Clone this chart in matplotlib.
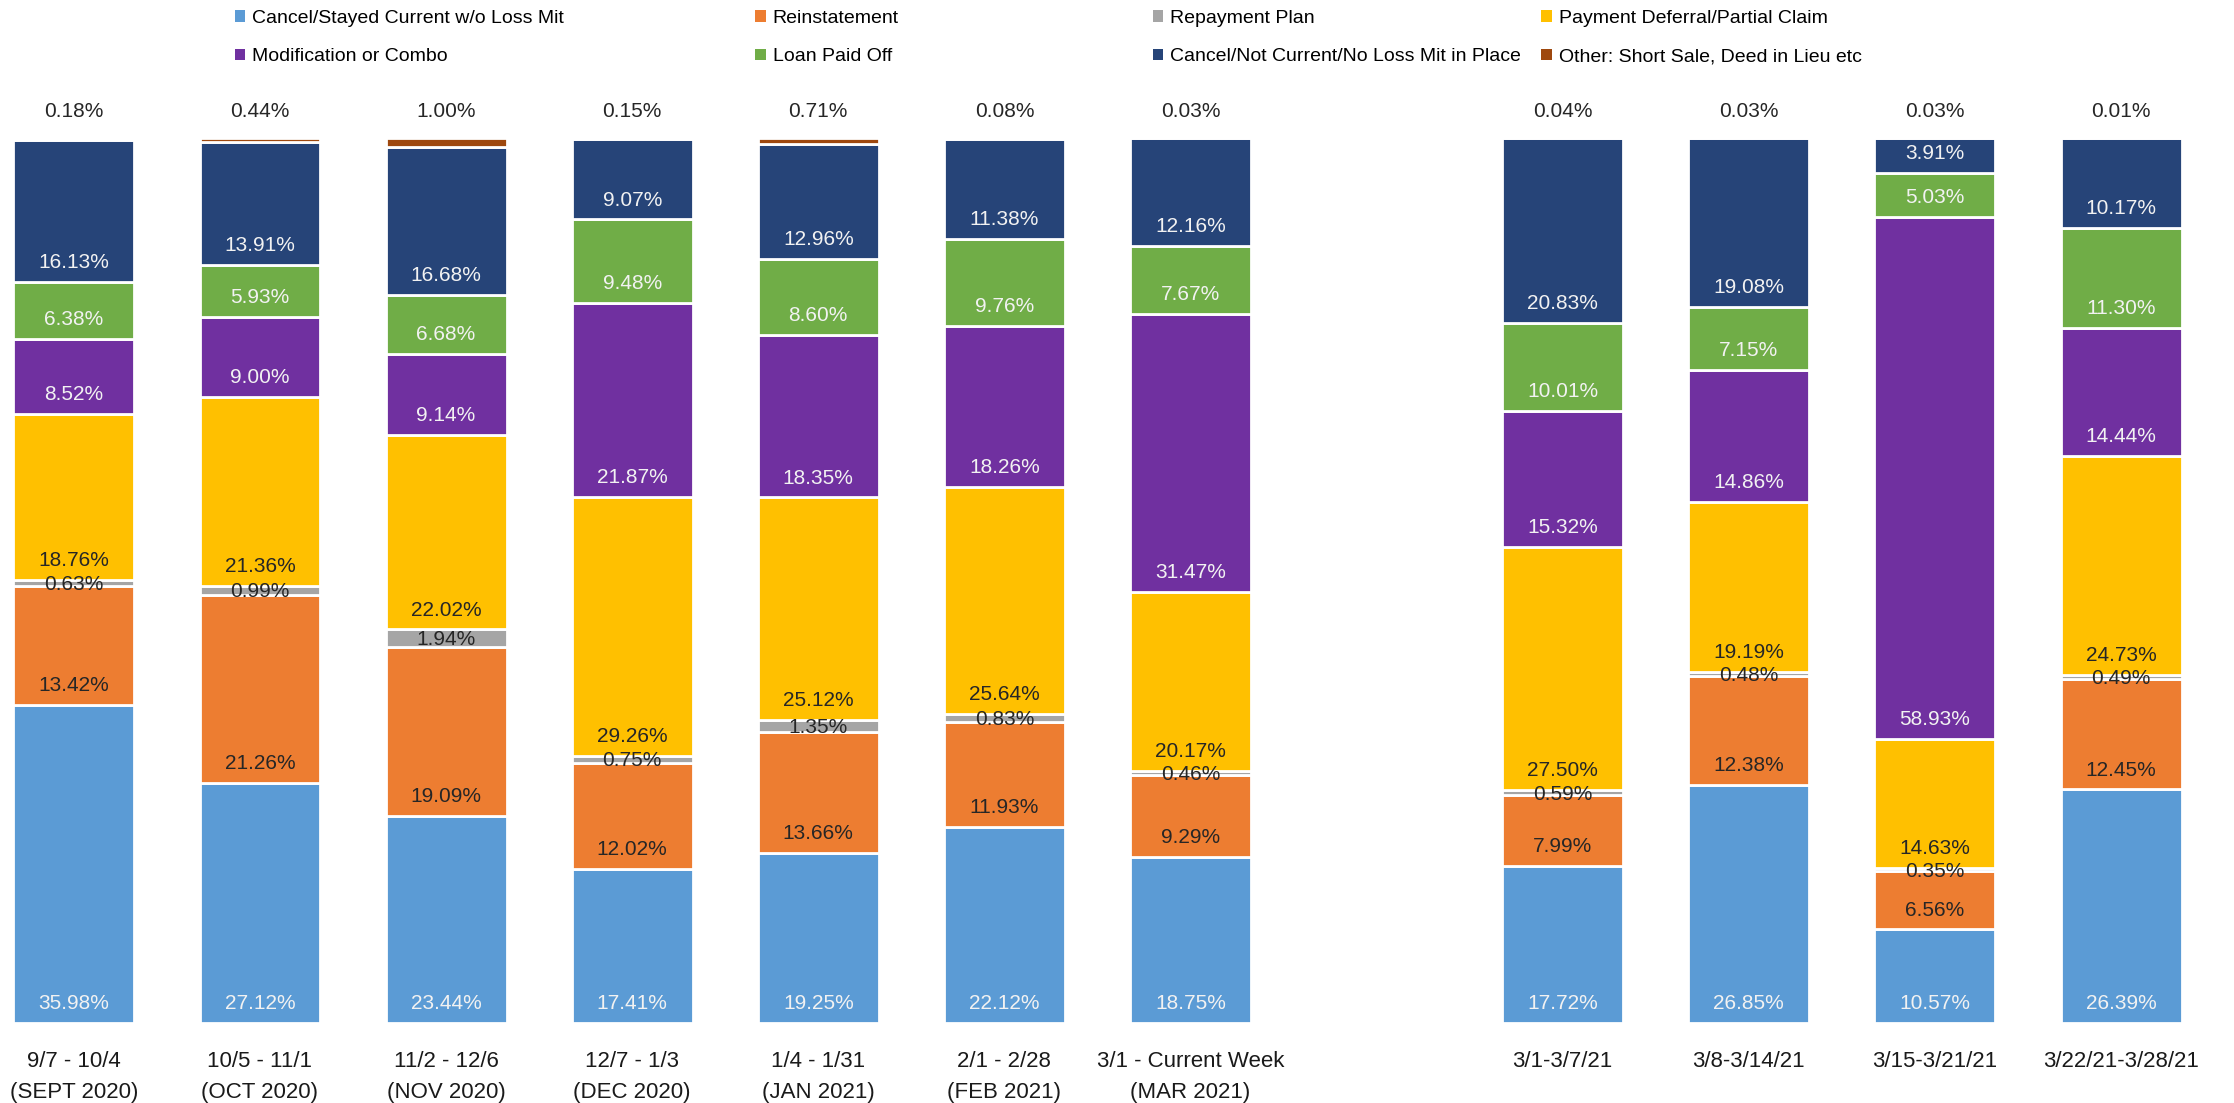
import numpy as np
import matplotlib.pyplot as plt
from matplotlib.patches import Patch

plt.rcParams['font.family'] = ['Liberation Sans', 'DejaVu Sans']

#categories (bottom to top of each stack)
series = ['Cancel/Stayed Current w/o Loss Mit', 'Reinstatement', 'Repayment Plan',
          'Payment Deferral/Partial Claim', 'Modification or Combo', 'Loan Paid Off',
          'Cancel/Not Current/No Loss Mit in Place', 'Other: Short Sale, Deed in Lieu etc']
colors = ['#5B9BD5', '#ED7D31', '#A5A5A5', '#FFC000', '#7030A0', '#70AD47', '#264478', '#9E480E']
txt_colors = ['#F2F2F2', '#262626', '#262626', '#262626', '#F2F2F2', '#F2F2F2', '#F2F2F2', '#262626']

labels = ['9/7 - 10/4\n(SEPT 2020)', '10/5 - 11/1\n(OCT 2020)', '11/2 - 12/6\n(NOV 2020)',
          '12/7 - 1/3\n(DEC 2020)', '1/4 - 1/31\n(JAN 2021)', '2/1 - 2/28\n(FEB 2021)',
          '3/1 - Current Week\n(MAR 2021)', '3/1-3/7/21', '3/8-3/14/21', '3/15-3/21/21',
          '3/22/21-3/28/21']
pos = [0, 1, 2, 3, 4, 5, 6, 8, 9, 10, 11]

stayed_current = [35.98, 27.12, 23.44, 17.41, 19.25, 22.12, 18.75, 17.72, 26.85, 10.57, 26.39]
reinstatement  = [13.42, 21.26, 19.09, 12.02, 13.66, 11.93, 9.29, 7.99, 12.38, 6.56, 12.45]
repayment      = [0.63, 0.99, 1.94, 0.75, 1.35, 0.83, 0.46, 0.59, 0.48, 0.35, 0.49]
deferral       = [18.76, 21.36, 22.02, 29.26, 25.12, 25.64, 20.17, 27.50, 19.19, 14.63, 24.73]
modification   = [8.52, 9.00, 9.14, 21.87, 18.35, 18.26, 31.47, 15.32, 14.86, 58.93, 14.44]
paid_off       = [6.38, 5.93, 6.68, 9.48, 8.60, 9.76, 7.67, 10.01, 7.15, 5.03, 11.30]
not_current    = [16.13, 13.91, 16.68, 9.07, 12.96, 11.38, 12.16, 20.83, 19.08, 3.91, 10.17]
other          = [0.18, 0.44, 1.00, 0.15, 0.71, 0.08, 0.03, 0.04, 0.03, 0.03, 0.01]

data = [stayed_current, reinstatement, repayment, deferral, modification, paid_off, not_current, other]

fig = plt.figure(figsize=(22.34, 11.03), dpi=100)
ax = fig.add_axes([0, 0.0725, 1, 0.8024])

fs = 15
bottom = np.zeros(len(pos))
for i, vals in enumerate(data):
    vals = np.array(vals)
    ax.bar(pos, vals, 0.65, bottom=bottom, color=colors[i], edgecolor='white',
           linewidth=2, label=series[i])
    for x, b, v in zip(pos, bottom, vals):
        if i == 7:
            # other: label above the bar
            ax.annotate('%.2f%%' % v, (x, 100), xytext=(0, 19), textcoords='offset points',
                        ha='center', va='center', fontsize=fs, color='#262626')
        elif i == 2:
            ax.annotate('%.2f%%' % v, (x, b + v / 2), xytext=(0, -1), textcoords='offset points',
                        ha='center', va='center', fontsize=fs, color=txt_colors[i])
        else:
            ax.annotate('%.2f%%' % v, (x, b), xytext=(0, 14), textcoords='offset points',
                        ha='center', va='center', fontsize=fs, color=txt_colors[i])
    bottom += vals

ax.set_xlim(-0.397, 11.607)
ax.set_ylim(0, 100)
ax.set_xticks(pos)
ax.set_xticklabels(labels, fontsize=16, color='#1a1a1a', linespacing=1.65)
ax.tick_params(axis='x', length=0, pad=20)
ax.set_yticks([])
for s in ax.spines.values():
    s.set_visible(False)

#legend, one per column
handles = [Patch(facecolor=c) for c in colors]
col_x = [0.105, 0.338, 0.516, 0.690]
for k in range(4):
    idx = [k, k + 4]
    fig.legend([handles[j] for j in idx], [series[j] for j in idx],
               loc='upper left', bbox_to_anchor=(col_x[k], 0.991), frameon=False,
               fontsize=14, handlelength=0.55, handleheight=0.55, handletextpad=0.35,
               labelspacing=1.1, borderaxespad=0, borderpad=0)

fig.savefig('out.png', dpi=100)
